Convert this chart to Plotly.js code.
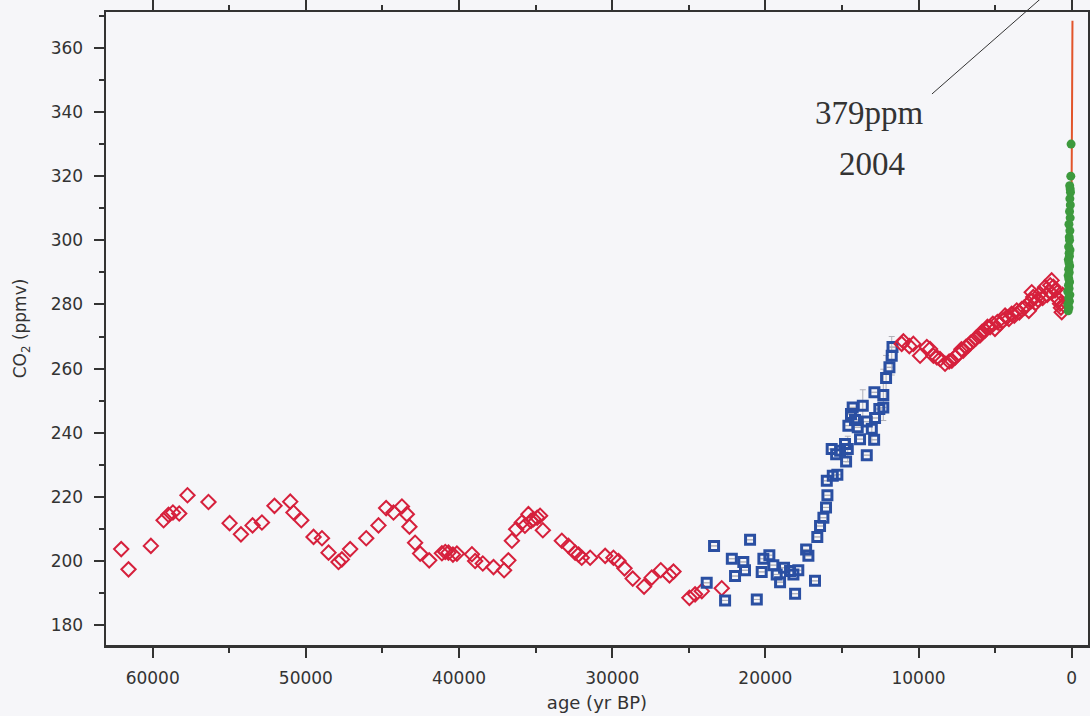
<!DOCTYPE html>
<html>
<head>
<meta charset="utf-8">
<script src="https://cdn.plot.ly/plotly-3.0.1.min.js"></script>
<style>html,body{margin:0;padding:0;background:#f6f6f9;}#chart{width:1090px;height:716px;}</style>
</head>
<body>
<div id="chart"></div>
<script>
// Red diamonds, 63 kyr - 22 kyr BP
const redOldAge = [62056,61580,60120,59290,58970,58680,58270,57730,56360,54980,54240,53480,52870,52050,51020,50810,50300,49500,48950,48520,47870,47650,47110,46060,45260,44760,44280,43730,43410,43240,42870,42540,41950,41120,40900,40690,40400,40140,39160,38950,38450,37750,37060,36780,36550,36270,35900,35700,35470,35300,35140,34900,34710,34530,33290,32860,32420,32200,31990,31440,30460,29920,29590,29200,28660,27920,27420,26830,26260,26000,24960,24590,24150,22850];
const redOldCO2 = [203.7,197.4,204.7,212.7,214.4,215.1,214.8,220.5,218.4,211.8,208.3,211.1,212.0,217.2,218.5,215.1,212.7,207.5,207.1,202.6,199.7,200.5,203.7,207.1,211.1,216.5,215.1,217.0,214.6,210.7,205.7,202.3,200.2,202.4,202.8,202.6,202.0,202.3,202.1,200.0,199.2,198.1,197.1,200.2,206.3,209.9,212.0,211.0,214.6,212.5,213.0,213.5,214.1,209.6,206.3,204.7,202.6,202.0,201.0,201.0,201.6,201.0,200.0,197.7,194.5,192.0,194.8,197.1,195.5,196.7,188.5,189.6,190.6,191.5];

// Blue squares, 24 kyr - 11.7 kyr BP
const blueAge = [23830,23350,22630,22190,21980,21440,21330,21000,20560,20240,20130,19740,19480,19260,19040,18780,18390,18170,18060,17850,17340,17190,16760,16610,16430,16210,16040,15950,15990,15600,15300,15670,15380,15120,14800,14730,14620,14580,14410,14300,14150,13970,13820,13640,13380,13380,13050,12900,12840,12880,12560,12300,12300,12120,11900,11750,11700];
const blueCO2 = [193.2,204.7,187.7,200.7,195.3,199.7,197.1,206.6,188.0,196.6,200.7,201.8,198.7,195.8,193.4,197.9,196.9,195.8,189.8,197.1,203.6,201.6,193.8,207.5,210.9,213.5,216.7,220.5,225.0,226.6,226.9,234.9,233.3,234.4,236.5,231.0,234.9,242.2,245.8,247.9,244.0,241.7,238.0,248.4,243.5,233.0,241.2,237.8,244.6,252.6,247.4,251.8,247.9,257.1,260.4,264.0,266.7];
const blueErr = [0,0,0,0,0,0,0,0,0,0,0,0,0,0,0,0,0,0,0,0,0,0,0,0,0,0,0,0,0,0,0,0,0,0,0,0,4,0,0,0,0,0,0,5,0,0,5,0,0,0,0,8,0,7,0,6,0];

// Red diamonds, Holocene
const redNewAge = [11100,10990,10600,10340,9900,9460,9250,9030,8800,8600,8270,8000,7830,7600,7400,7200,7080,6900,6750,6600,6420,6250,5990,5850,5660,5500,5330,5150,5010,4850,4680,4500,4350,4240,4100,3920,3750,3590,3420,3260,3100,2940,2800,2650,2610,2510,2350,2200,2070,1900,1740,1600,1450,1400,1310,1200,1090,950,860,760,700,650,600,550];
const redNewCO2 = [267.7,268.5,267.0,267.7,264.0,266.7,266.1,264.0,263.5,263.0,261.5,262.2,262.5,263.5,264.6,266.0,265.6,266.8,267.2,268.0,268.7,269.5,270.3,271.5,271.9,273.0,272.9,274.0,272.4,274.5,274.0,275.0,276.5,276.0,275.5,277.1,276.5,278.1,277.5,278.6,279.0,279.7,278.0,281.0,283.8,282.3,280.5,281.5,283.3,282.0,285.4,283.0,284.0,286.0,287.5,285.5,284.4,282.0,281.5,280.2,279.0,277.6,283.0,280.0];

// Green circles, last millennium
const greenAge = [230,180,250,150,200,120,260,170,210,140,190,230,160,200,130,180,220,150,170,110,200,140,160,120,180,100,140,90,120,80,100,130,60,40];
const greenCO2 = [278,279,280,281,282,283,284,285,286,287,288,289,290,291,292,293,294,295,296,297,298,300,301,303,305,307,309,311,313,315,316,317,320,330];

// Atmospheric record (line)
const lineAge = [10,0,-10,-20,-30,-40,-50];
const lineCO2 = [314,318,326,337,348,359,368.5];

const traces = [
  {x: redOldAge, y: redOldCO2, type:'scatter', mode:'markers',
   marker:{symbol:'diamond-open', size:11, color:'#d6203c', line:{width:2, color:'#d6203c'}}},
  {x: blueAge, y: blueCO2, type:'scatter', mode:'markers',
   error_y:{type:'data', array: blueErr, visible:true, color:'#b0b0b8', thickness:1, width:3},
   marker:{symbol:'square-open', size:9, color:'#2a4fa2', line:{width:3, color:'#2a4fa2'}}},
  {x: redNewAge, y: redNewCO2, type:'scatter', mode:'markers',
   marker:{symbol:'diamond-open', size:11, color:'#d6203c', line:{width:2, color:'#d6203c'}}},
  {x: lineAge, y: lineCO2, type:'scatter', mode:'lines',
   line:{color:'#e2552b', width:2}},
  {x: greenAge, y: greenCO2, type:'scatter', mode:'markers',
   marker:{symbol:'circle', size:9, color:'#3d9a3d'}}
];

const axisCommon = {
  showgrid:false, zeroline:false, showline:true, linecolor:'#333', linewidth:2.5,
  ticks:'outside', ticklen:10, tickwidth:2, tickcolor:'#333',
  tickfont:{family:'DejaVu Sans, sans-serif', size:17, color:'#333'}
};

const layout = {
  width:1090, height:716,
  margin:{l:106, r:2, t:12, b:71},
  paper_bgcolor:'#f6f6f9', plot_bgcolor:'#f6f6f9',
  showlegend:false,
  font:{family:'DejaVu Sans, sans-serif', color:'#333'},
  xaxis: Object.assign({}, axisCommon, {
    range:[63050,-1064], tickmode:'linear', tick0:0, dtick:10000, tickformat:'d',
    mirror:'allticks', ticklabelstandoff:6,
    minor:{dtick:5000, tick0:0, ticks:'outside', ticklen:5, tickwidth:2, tickcolor:'#333', showgrid:false},
    title:{text:'age (yr BP)', font:{size:18, color:'#333'}, standoff:10}
  }),
  yaxis: Object.assign({}, axisCommon, {
    range:[173.8,371.2], tickmode:'linear', tick0:0, dtick:20,
    mirror:true, ticklabelstandoff:7,
    minor:{dtick:10, tick0:0, ticks:'outside', ticklen:5, tickwidth:2, tickcolor:'#333', showgrid:false},
    title:{text:'CO<sub>2</sub> (ppmv)', font:{size:17, color:'#333'}, standoff:20}
  }),
  shapes:[
    {type:'line', xref:'paper', yref:'paper', x0:0.8411, y0:0.8705, x1:0.9562, y1:1.027,
     line:{color:'#333', width:1}}
  ],
  annotations:[
    {xref:'paper', yref:'paper', x:0.778, y:0.8404, text:'379ppm', showarrow:false,
     font:{family:'Liberation Serif, serif', size:33, color:'#333'}, xanchor:'center', yanchor:'middle'},
    {xref:'paper', yref:'paper', x:0.780, y:0.760, text:'2004', showarrow:false,
     font:{family:'Liberation Serif, serif', size:33, color:'#333'}, xanchor:'center', yanchor:'middle'}
  ]
};

Plotly.newPlot('chart', traces, layout, {staticPlot:true, displayModeBar:false});
</script>
</body>
</html>
